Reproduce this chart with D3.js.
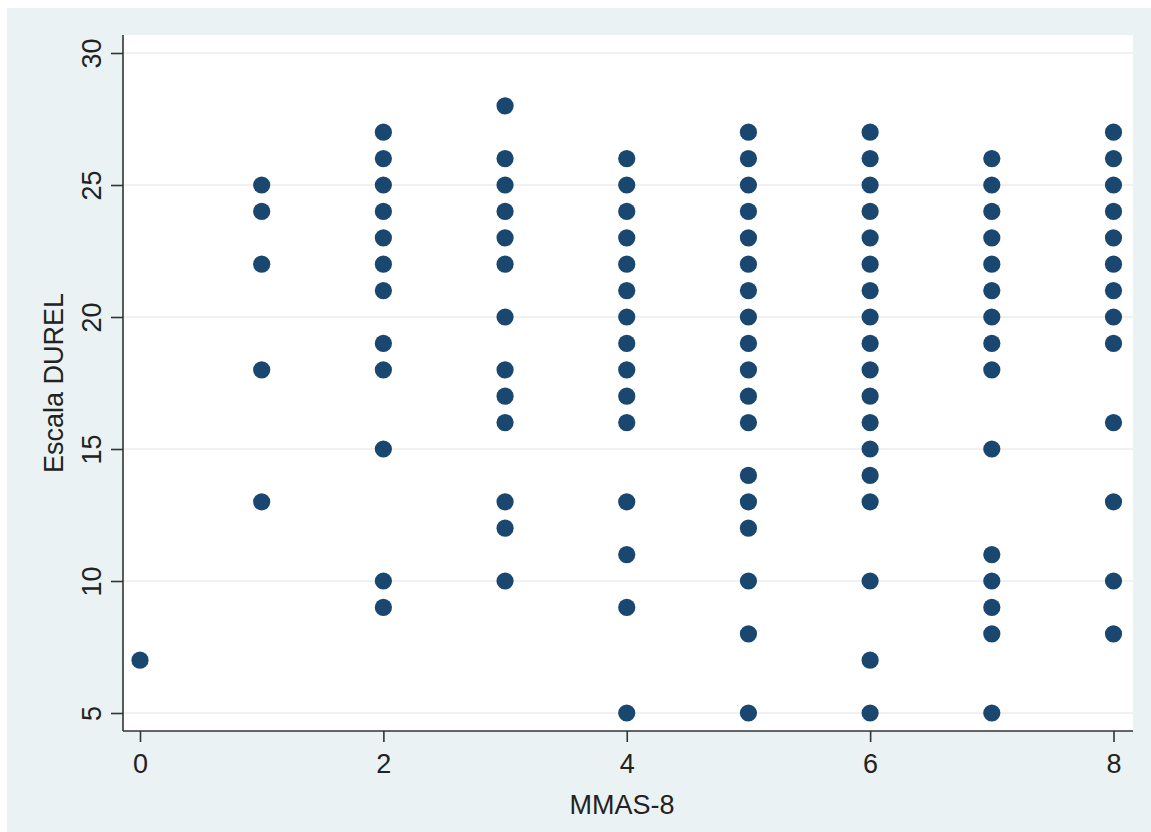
<!DOCTYPE html>
<html lang="es">
<head>
    <meta charset="UTF-8">
    <title>Escala DUREL vs MMAS-8</title>
    <script src="https://d3js.org/d3.v7.min.js"></script>
    <style>
        body {
            margin: 0;
            background: #ffffff;
            font-family: "Liberation Sans", Arial, sans-serif;
        }
        svg {
            display: block;
        }
        .axis text {
            font-size: 27px;
            fill: #222;
            font-family: "Liberation Sans", Arial, sans-serif;
        }
        .axis line {
            stroke: #333;
            stroke-width: 1.6px;
        }
        .grid line {
            stroke: #ececec;
            stroke-width: 1.5px;
        }
        .title {
            font-size: 27px;
            fill: #222;
        }
    </style>
</head>
<body>
    <svg width="1151" height="832"></svg>
    <script>
        // MMAS-8 scores (x) and the DUREL values seen at each score (y)
        const mmasLevels = [0, 1, 2, 3, 4, 5, 6, 7, 8];
        const durel0 = [7];
        const durel1 = [25, 24, 22, 18, 13];
        const durel2 = [27, 26, 25, 24, 23, 22, 21, 19, 18, 15, 10, 9];
        const durel3 = [28, 26, 25, 24, 23, 22, 20, 18, 17, 16, 13, 12, 10];
        const durel4 = [26, 25, 24, 23, 22, 21, 20, 19, 18, 17, 16, 13, 11, 9, 5];
        const durel5 = [27, 26, 25, 24, 23, 22, 21, 20, 19, 18, 17, 16, 14, 13, 12, 10, 8, 5];
        const durel6 = [27, 26, 25, 24, 23, 22, 21, 20, 19, 18, 17, 16, 15, 14, 13, 10, 7, 5];
        const durel7 = [26, 25, 24, 23, 22, 21, 20, 19, 18, 15, 11, 10, 9, 8, 5];
        const durel8 = [27, 26, 25, 24, 23, 22, 21, 20, 19, 16, 13, 10, 8];
        const xTicks = [0, 2, 4, 6, 8];
        const yTicks = [5, 10, 15, 20, 25, 30];

        const durelGroups = [durel0, durel1, durel2, durel3, durel4, durel5, durel6, durel7, durel8];
        const points = mmasLevels.flatMap((m, i) => durelGroups[i].map(v => ({mmas: m, durel: v})));

        const svg = d3.select("svg");

        // plot region (Stata-like layout)
        const plot = {left: 123, right: 1133, top: 35, bottom: 731};

        // outer light bluish background
        svg.append("rect")
            .attr("x", 7).attr("y", 8)
            .attr("width", 1151 - 7).attr("height", 832 - 8)
            .attr("fill", "#eaf2f3");

        svg.append("rect")
            .attr("x", plot.left).attr("y", plot.top)
            .attr("width", plot.right - plot.left).attr("height", plot.bottom - plot.top)
            .attr("fill", "#ffffff");

        const x = d3.scaleLinear().domain([0, 8]).range([140, 1113.5]);
        const y = d3.scaleLinear().domain([5, 30]).range([713, 53]);

        // gridlines
        svg.append("g")
            .attr("class", "grid")
            .selectAll("line")
            .data(yTicks)
            .join("line")
            .attr("x1", plot.left + 1).attr("x2", plot.right)
            .attr("y1", d => y(d)).attr("y2", d => y(d));

        // points
        svg.append("g")
            .selectAll("circle")
            .data(points)
            .join("circle")
            .attr("cx", d => x(d.mmas))
            .attr("cy", d => y(d.durel))
            .attr("r", 8.6)
            .attr("fill", "#1a476f");

        // x axis
        const xAxis = svg.append("g")
            .attr("class", "axis")
            .attr("transform", `translate(0,${plot.bottom})`)
            .call(d3.axisBottom(x).tickValues(xTicks).tickFormat(d3.format("d")).tickSize(11).tickPadding(12));
        xAxis.select(".domain").remove();
        xAxis.append("line")
            .attr("x1", plot.left).attr("x2", plot.right)
            .attr("y1", 0).attr("y2", 0);

        // y axis, labels rotated like Stata
        const yAxis = svg.append("g")
            .attr("class", "axis")
            .attr("transform", `translate(${plot.left},0)`)
            .call(d3.axisLeft(y).tickValues(yTicks).tickFormat(d3.format("d")).tickSize(12));
        yAxis.select(".domain").remove();
        yAxis.selectAll(".tick text")
            .attr("x", null).attr("dy", null)
            .attr("text-anchor", "middle")
            .attr("transform", "translate(-22,0) rotate(-90)");
        yAxis.append("line")
            .attr("x1", 0).attr("x2", 0)
            .attr("y1", plot.top).attr("y2", plot.bottom);

        // axis titles
        svg.append("text")
            .attr("class", "title")
            .attr("x", 622).attr("y", 814)
            .attr("text-anchor", "middle")
            .text("MMAS-8");

        svg.append("text")
            .attr("class", "title")
            .attr("transform", "translate(63,383) rotate(-90)")
            .attr("text-anchor", "middle")
            .text("Escala DUREL");
    </script>
</body>
</html>
